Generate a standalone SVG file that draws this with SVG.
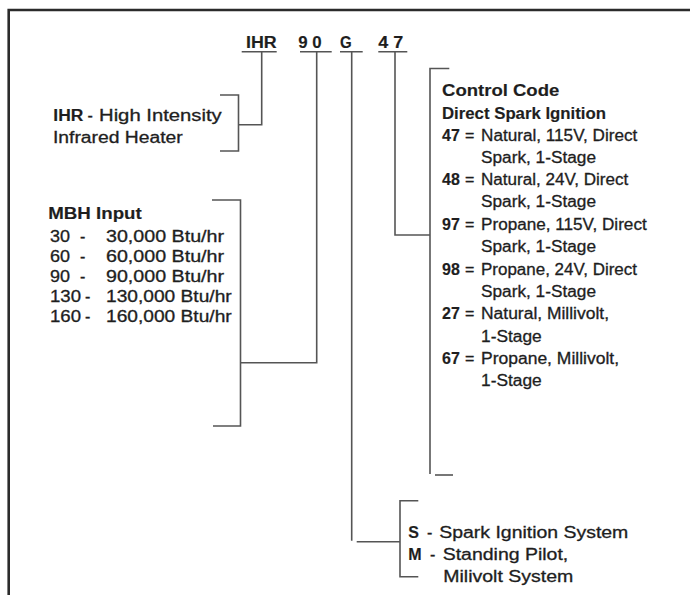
<svg xmlns="http://www.w3.org/2000/svg" width="690" height="595" viewBox="0 0 690 595">
<style>
text{font-family:"Liberation Sans",Arial,Helvetica,sans-serif;font-size:16px;fill:#1e1e1e;stroke:#1e1e1e;stroke-width:0.3}
.b{font-weight:bold;stroke-width:0.15}
.ln{fill:none;stroke:#555;stroke-width:1.6}
.frame{fill:none;stroke:#2b2b2b;stroke-width:2.6}
</style>
<rect width="690" height="595" fill="#fff"/>
<path class="frame" d="M8.7,600 V10 H700"/>
<g id="title">
<text class="b" x="246" y="48" textLength="30.7" lengthAdjust="spacingAndGlyphs">IHR</text>
<text class="b" x="298.3" y="48" textLength="23.4" lengthAdjust="spacingAndGlyphs">9 0</text>
<text class="b" x="340" y="48" textLength="11.7" lengthAdjust="spacingAndGlyphs">G</text>
<text class="b" x="378.3" y="48" textLength="25" lengthAdjust="spacingAndGlyphs">4 7</text>
</g>
<g id="node-ihr">
<text x="53.3" y="121"><tspan class="b" textLength="30" lengthAdjust="spacingAndGlyphs">IHR</tspan><tspan x="87.5">-</tspan><tspan x="99" textLength="122.7" lengthAdjust="spacingAndGlyphs">High Intensity</tspan></text>
<text x="53" y="143.3" textLength="129.7" lengthAdjust="spacingAndGlyphs">Infrared Heater</text>
</g>
<g id="node-mbh">
<text class="b" x="48.3" y="219.3" textLength="93.4" lengthAdjust="spacingAndGlyphs">MBH Input</text>
<text y="242.3"><tspan x="50" textLength="20" lengthAdjust="spacingAndGlyphs">30</tspan><tspan x="80">-</tspan><tspan x="106" textLength="118" lengthAdjust="spacingAndGlyphs">30,000 Btu/hr</tspan></text>
<text y="262"><tspan x="50" textLength="20" lengthAdjust="spacingAndGlyphs">60</tspan><tspan x="80">-</tspan><tspan x="106" textLength="118" lengthAdjust="spacingAndGlyphs">60,000 Btu/hr</tspan></text>
<text y="281.8"><tspan x="50" textLength="20" lengthAdjust="spacingAndGlyphs">90</tspan><tspan x="80">-</tspan><tspan x="106" textLength="118" lengthAdjust="spacingAndGlyphs">90,000 Btu/hr</tspan></text>
<text y="301.7"><tspan x="50" textLength="31" lengthAdjust="spacingAndGlyphs">130</tspan><tspan x="85">-</tspan><tspan x="106" textLength="125.7" lengthAdjust="spacingAndGlyphs">130,000 Btu/hr</tspan></text>
<text y="321.6"><tspan x="50" textLength="31" lengthAdjust="spacingAndGlyphs">160</tspan><tspan x="85">-</tspan><tspan x="106" textLength="125.7" lengthAdjust="spacingAndGlyphs">160,000 Btu/hr</tspan></text>
</g>
<g id="node-control">
<text class="b" x="442" y="96" textLength="117.3" lengthAdjust="spacingAndGlyphs">Control Code</text>
<text class="b" x="442" y="118.5" textLength="164" lengthAdjust="spacingAndGlyphs">Direct Spark Ignition</text>
<text y="141"><tspan class="b" x="442">47</tspan><tspan x="465">=</tspan><tspan x="481" textLength="156.3" lengthAdjust="spacingAndGlyphs">Natural, 115V, Direct</tspan></text>
<text x="481" y="162.5" textLength="115" lengthAdjust="spacingAndGlyphs">Spark, 1-Stage</text>
<text y="185"><tspan class="b" x="442">48</tspan><tspan x="465">=</tspan><tspan x="481" textLength="147.3" lengthAdjust="spacingAndGlyphs">Natural, 24V, Direct</tspan></text>
<text x="481" y="207" textLength="115" lengthAdjust="spacingAndGlyphs">Spark, 1-Stage</text>
<text y="230"><tspan class="b" x="442">97</tspan><tspan x="465">=</tspan><tspan x="481" textLength="165.7" lengthAdjust="spacingAndGlyphs">Propane, 115V, Direct</tspan></text>
<text x="481" y="252" textLength="115" lengthAdjust="spacingAndGlyphs">Spark, 1-Stage</text>
<text y="275"><tspan class="b" x="442">98</tspan><tspan x="465">=</tspan><tspan x="481" textLength="156" lengthAdjust="spacingAndGlyphs">Propane, 24V, Direct</tspan></text>
<text x="481" y="296.7" textLength="115" lengthAdjust="spacingAndGlyphs">Spark, 1-Stage</text>
<text y="319.3"><tspan class="b" x="442">27</tspan><tspan x="465">=</tspan><tspan x="481" textLength="128" lengthAdjust="spacingAndGlyphs">Natural, Millivolt,</tspan></text>
<text x="481" y="341.7" textLength="60.7" lengthAdjust="spacingAndGlyphs">1-Stage</text>
<text y="364.3"><tspan class="b" x="442">67</tspan><tspan x="465">=</tspan><tspan x="481" textLength="138" lengthAdjust="spacingAndGlyphs">Propane, Millivolt,</tspan></text>
<text x="481" y="386" textLength="60.7" lengthAdjust="spacingAndGlyphs">1-Stage</text>
</g>
<g id="node-ignition">
<text y="538.3"><tspan class="b" x="408.3">S</tspan><tspan x="427">-</tspan><tspan x="439.3" textLength="189" lengthAdjust="spacingAndGlyphs">Spark Ignition System</tspan></text>
<text y="559.5"><tspan class="b" x="408.3">M</tspan><tspan x="430">-</tspan><tspan x="442.7" textLength="125.6" lengthAdjust="spacingAndGlyphs">Standing Pilot,</tspan></text>
<text x="443.3" y="581.7" textLength="130" lengthAdjust="spacingAndGlyphs">Milivolt System</text>
</g>
<g id="connectors">
<path class="ln" d="M241.7,51.7 H276.7 M300,51.7 H331.7 M340,51.7 H362.7 M378.3,51.7 H407.3"/>
<path class="ln" d="M261.7,51.7 V124.7 H238.5"/>
<path class="ln" d="M220,95 H238.5 V151 H220"/>
<path class="ln" d="M316.7,51.7 V362.7 H240.5"/>
<path class="ln" d="M212,200 H240.5 V426 H213"/>
<path class="ln" d="M351.7,51.7 V540.7"/>
<path class="ln" d="M356.7,541.7 H400"/>
<path class="ln" d="M418.3,500.7 H400 V576.7 H418.3"/>
<path class="ln" d="M395,51.7 V235 H430"/>
<path class="ln" d="M449.3,68.5 H430 V474"/>
<path class="ln" d="M435,475 H453"/>
</g>
</svg>
